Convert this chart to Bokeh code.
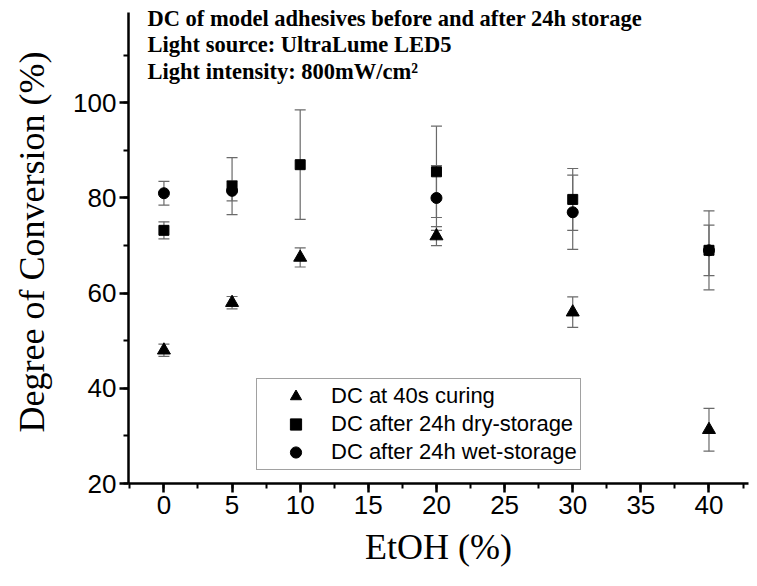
from bokeh.plotting import figure
from bokeh.models import (ColumnDataSource, Whisker, TeeHead, SingleIntervalTicker,
                          Label, Legend, LegendItem, Range1d)
from bokeh.embed import file_html
from bokeh.resources import INLINE

# EtOH content (%)
etoh_40s = [0, 5, 10, 20, 30, 40]
dc_40s = [48.0, 58.0, 67.5, 72.0, 56.0, 31.3]
dc_40s_err = [1.3, 1.3, 2.0, 2.0, 3.2, 4.5]

etoh_dry = [0, 5, 10, 20, 30, 40]
dc_dry = [73.2, 82.5, 87.0, 85.5, 79.7, 69.0]
dc_dry_err = [1.8, 6.0, 11.5, 9.6, 6.5, 8.3]

etoh_wet = [0, 5, 20, 30, 40]
dc_wet = [81.0, 81.5, 80.0, 77.0, 69.0]
dc_wet_err = [2.5, 2.1, 6.8, 7.8, 5.3]

labels = ["DC at 40s curing", "DC after 24h dry-storage", "DC after 24h wet-storage"]
title_lines = ["DC of model adhesives before and after 24h storage",
               "Light source: UltraLume LED5",
               "Light intensity: 800mW/cm\u00b2"]


def make_src(x, y, e):
    return ColumnDataSource(dict(x=x, y=y,
                                 upper=[a + b for a, b in zip(y, e)],
                                 lower=[a - b for a, b in zip(y, e)]))


p = figure(width=757, height=586, output_backend="svg", toolbar_location=None,
           x_range=Range1d(-2.6, 42.9), y_range=Range1d(20, 121.5),
           min_border_left=128, min_border_right=9, min_border_top=0,
           min_border_bottom=103)
p.outline_line_color = None
p.xgrid.visible = False
p.ygrid.visible = False
p.background_fill_color = "white"

err_col = "#6a6a6a"
srcs = [make_src(etoh_40s, dc_40s, dc_40s_err),
        make_src(etoh_dry, dc_dry, dc_dry_err),
        make_src(etoh_wet, dc_wet, dc_wet_err)]
for s in srcs:
    w = Whisker(source=s, base="x", upper="upper", lower="lower",
                line_color=err_col, line_width=1.2,
                upper_head=TeeHead(size=11, line_color=err_col, line_width=1.2),
                lower_head=TeeHead(size=11, line_color=err_col, line_width=1.2))
    p.add_layout(w)

r1 = p.scatter("x", "y", source=srcs[0], marker="triangle", size=13, color="black")
r2 = p.scatter("x", "y", source=srcs[1], marker="square", size=10, color="black")
r3 = p.scatter("x", "y", source=srcs[2], marker="circle", size=11, color="black")

for ax in (p.xaxis[0], p.yaxis[0]):
    ax.axis_line_width = 2.5
    ax.major_tick_line_width = 2.5
    ax.minor_tick_line_width = 2
    ax.major_tick_in = 0
    ax.major_tick_out = 9
    ax.minor_tick_in = 0
    ax.minor_tick_out = 5
    ax.major_label_text_font = "Liberation Sans"
    ax.major_label_text_font_size = "26px"
    ax.major_label_text_color = "black"
    ax.axis_label_text_font = "Liberation Serif"
    ax.axis_label_text_font_style = "normal"
    ax.axis_label_text_font_size = "36px"
    ax.axis_label_text_color = "black"

p.xaxis.ticker = SingleIntervalTicker(interval=5, num_minor_ticks=2)
p.yaxis.ticker = SingleIntervalTicker(interval=20, num_minor_ticks=2)
p.yaxis.bounds = (20, 119)
p.xaxis.axis_label = "EtOH (%)"
p.yaxis.axis_label = "Degree of Conversion (%)"
p.xaxis.major_label_standoff = 3
p.yaxis.major_label_standoff = 3
p.xaxis.axis_label_standoff = 10
p.yaxis.axis_label_standoff = 18

frame_h = 586 - 103
for t, y_top in zip(title_lines, [18, 44, 71]):
    p.add_layout(Label(x=19, y=frame_h - y_top, x_units="screen", y_units="screen",
                       text=t, text_font="Liberation Serif", text_font_style="bold",
                       text_font_size="22.5px", text_baseline="middle", text_color="black"))

leg = Legend(items=[LegendItem(label=labels[0], renderers=[r1]),
                    LegendItem(label=labels[1], renderers=[r2]),
                    LegendItem(label=labels[2], renderers=[r3])],
             location=(128, 13))
leg.label_text_font = "Liberation Sans"
leg.label_text_font_size = "22px"
leg.label_text_color = "black"
leg.glyph_width = 71
leg.glyph_height = 28
leg.label_height = 28
leg.label_standoff = 0
leg.spacing = 0
leg.padding = 3
leg.margin = 0
leg.border_line_color = "#444444"
leg.border_line_width = 1.5
leg.background_fill_alpha = 1
p.add_layout(leg)

open("out.html", "w").write(file_html(p, INLINE))
